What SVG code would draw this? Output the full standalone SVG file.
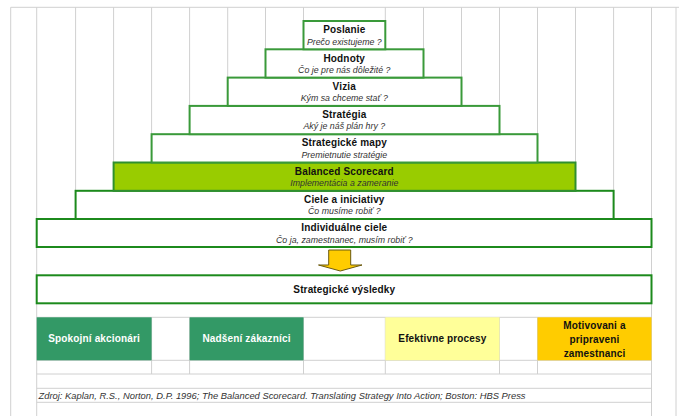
<svg xmlns="http://www.w3.org/2000/svg" width="679" height="416" viewBox="0 0 679 416">
<style>
.g{stroke:#d0d0d0;stroke-width:1;fill:none}
.bx{fill:#fff;stroke:#3a9a3a;stroke-width:2}
.bx2{fill:#fff;stroke:#1c8a1c;stroke-width:2}
.t{font-family:"Liberation Sans",Arial,sans-serif;font-size:10px;font-weight:bold;fill:#111;text-anchor:middle;letter-spacing:0.15px}
.s{font-family:"Liberation Sans",Arial,sans-serif;font-size:8.8px;font-style:italic;fill:#333;text-anchor:middle}
.w{fill:#fff}
</style>
<rect x="0" y="0" width="679" height="416" fill="#fff"/>
<g id="grid">
<line class="g" x1="10.7" y1="7.3" x2="679" y2="7.3"/>
<line class="g" x1="10.7" y1="7.3" x2="10.7" y2="416"/>
<line class="g" x1="36.7" y1="7.3" x2="36.7" y2="416"/>
<line class="g" x1="651.5" y1="7.3" x2="651.5" y2="416"/>
<line class="g" x1="676" y1="7.3" x2="676" y2="416"/>
<line class="g" x1="75.6" y1="7.3" x2="75.6" y2="247"/>
<line class="g" x1="113.6" y1="7.3" x2="113.6" y2="247"/>
<line class="g" x1="151.6" y1="7.3" x2="151.6" y2="247"/>
<line class="g" x1="189.6" y1="7.3" x2="189.6" y2="247"/>
<line class="g" x1="227.7" y1="7.3" x2="227.7" y2="247"/>
<line class="g" x1="265.5" y1="7.3" x2="265.5" y2="247"/>
<line class="g" x1="303.5" y1="7.3" x2="303.5" y2="247"/>
<line class="g" x1="385.3" y1="7.3" x2="385.3" y2="247"/>
<line class="g" x1="423.5" y1="7.3" x2="423.5" y2="247"/>
<line class="g" x1="461.5" y1="7.3" x2="461.5" y2="247"/>
<line class="g" x1="499.5" y1="7.3" x2="499.5" y2="247"/>
<line class="g" x1="537.5" y1="7.3" x2="537.5" y2="247"/>
<line class="g" x1="575.5" y1="7.3" x2="575.5" y2="247"/>
<line class="g" x1="613.6" y1="7.3" x2="613.6" y2="247"/>
<line class="g" x1="36.7" y1="317.3" x2="651.5" y2="317.3"/>
<line class="g" x1="151.6" y1="317.3" x2="151.6" y2="374"/>
<line class="g" x1="189.6" y1="317.3" x2="189.6" y2="374"/>
<line class="g" x1="303.5" y1="317.3" x2="303.5" y2="374"/>
<line class="g" x1="385.3" y1="317.3" x2="385.3" y2="374"/>
<line class="g" x1="499.5" y1="317.3" x2="499.5" y2="374"/>
<line class="g" x1="537.5" y1="317.3" x2="537.5" y2="374"/>
<line class="g" x1="36.7" y1="360.3" x2="651.5" y2="360.3"/>
<line class="g" x1="36.7" y1="374" x2="651.5" y2="374"/>
<line class="g" x1="36.7" y1="388.3" x2="651.5" y2="388.3"/>
<line class="g" x1="36.7" y1="402.3" x2="651.5" y2="402.3"/>
</g>
<g id="individualne-ciele">
<rect class="bx2" x="36.7" y="219" width="614.8" height="28"/>
<text class="t" x="344.3" y="231">Individuálne ciele</text>
<text class="s" x="344.3" y="242.5">Čo ja, zamestnanec, musím robiť ?</text>
</g>
<g id="ciele-a-iniciativy">
<rect class="bx2" x="75.6" y="190.8" width="538" height="28.2"/>
<text class="t" x="344.3" y="202.8">Ciele a iniciativy</text>
<text class="s" x="344.3" y="214.3">Čo musíme robiť ?</text>
</g>
<g id="balanced-scorecard">
<rect x="113.6" y="162.5" width="461.9" height="28.3" fill="#99cc00" stroke="#2f8f2f" stroke-width="2"/>
<text class="t" x="344.3" y="174.5">Balanced Scorecard</text>
<text class="s" x="344.3" y="186">Implementácia a zameranie</text>
</g>
<g id="strategicke-mapy">
<rect class="bx" x="151.6" y="134.2" width="385.9" height="28.3"/>
<text class="t" x="344.3" y="146.2">Strategické mapy</text>
<text class="s" x="344.3" y="157.7">Premietnutie stratégie</text>
</g>
<g id="strategia">
<rect class="bx" x="189.6" y="105.9" width="309.9" height="28.3"/>
<text class="t" x="344.3" y="117.9">Stratégia</text>
<text class="s" x="344.3" y="129.4">Aký je náš plán hry ?</text>
</g>
<g id="vizia">
<rect class="bx" x="227.7" y="77.6" width="233.8" height="28.3"/>
<text class="t" x="344.3" y="89.6">Vizia</text>
<text class="s" x="344.3" y="101.1">Kým sa chceme stať ?</text>
</g>
<g id="hodnoty">
<rect class="bx" x="265.5" y="49.3" width="158" height="28.3"/>
<text class="t" x="344.3" y="61.5">Hodnoty</text>
<text class="s" x="344.3" y="72.8">Čo je pre nás dôležité ?</text>
</g>
<g id="poslanie">
<rect class="bx" x="303.5" y="21" width="81.8" height="28.3"/>
<text class="t" x="344.3" y="33">Poslanie</text>
<text class="s" x="344.3" y="44.5">Prečo existujeme ?</text>
</g>
<g id="strategicke-vysledky">
<rect class="bx2" x="36.7" y="275.3" width="614.8" height="28"/>
<text class="t" x="344.3" y="292.7">Strategické výsledky</text>
</g>
<g id="spokojni-akcionari">
<rect x="36.7" y="317.3" width="114.9" height="43" fill="#339966"/>
<text class="t w" x="94.1" y="342">Spokojní akcionári</text>
</g>
<g id="nadseni-zakaznici">
<rect x="189.6" y="317.3" width="113.9" height="43" fill="#339966"/>
<text class="t w" x="246.5" y="342">Nadšení zákazníci</text>
</g>
<g id="efektivne-procesy">
<rect x="385.3" y="317.3" width="114.2" height="43" fill="#ffff99"/>
<text class="t" x="442.4" y="342">Efektivne procesy</text>
</g>
<g id="motivovani-zamestnanci">
<rect x="537.5" y="317.3" width="114" height="43" fill="#ffcc00"/>
<text class="t" x="594.5" y="328.8">Motivovani a</text>
<text class="t" x="594.5" y="343">pripraveni</text>
<text class="t" x="594.5" y="357.2">zamestnanci</text>
</g>
<g id="connectors">
<polygon points="328.7,250 350.7,250 350.7,265 362,265 340.3,271 318.5,265 328.7,265" fill="#ffcc00" stroke="#6b5a10" stroke-width="1"/>
</g>
<g id="source">
<text x="38.5" y="399" font-family="'Liberation Sans',Arial,sans-serif" font-size="9.4" font-style="italic" fill="#333">Zdroj: Kaplan, R.S., Norton, D.P. 1996; The Balanced Scorecard. Translating Strategy Into Action; Boston: HBS Press</text>
</g>
</svg>
